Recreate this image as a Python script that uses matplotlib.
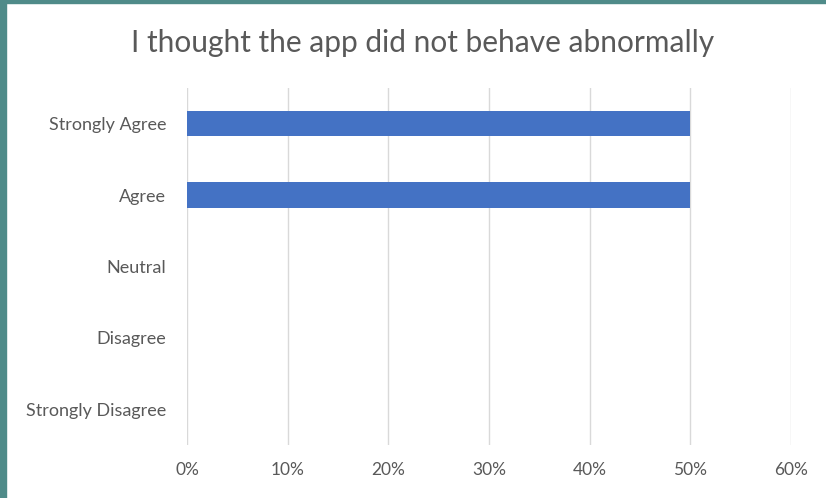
import matplotlib.pyplot as plt
from matplotlib.patches import Rectangle
from matplotlib.ticker import FuncFormatter

answers = ["Strongly Agree", "Agree", "Neutral", "Disagree", "Strongly Disagree"]
shares = [0.50, 0.50, 0.0, 0.0, 0.0]
x_ticks = [0.0, 0.1, 0.2, 0.3, 0.4, 0.5, 0.6]

plt.rcParams['font.family'] = ['Lato', 'DejaVu Sans']
text_col = "#595959"

fig = plt.figure(figsize=(8.26, 4.98), dpi=100)
ax = fig.add_axes([0.2264, 0.1064, 0.7312, 0.7169])

pos = list(range(len(answers)))
ax.barh(pos, shares, height=0.355, color="#4472C4", zorder=3)
ax.set_ylim(len(answers) - 0.5, -0.5)
ax.set_yticks(pos)
ax.set_yticklabels(answers)

ax.set_xlim(0, 0.6)
ax.set_xticks(x_ticks)
ax.xaxis.set_major_formatter(FuncFormatter(lambda v, _: f"{v*100:.0f}%"))
ax.grid(axis="x", color="#d9d9d9", linewidth=1, zorder=0)

for s in ax.spines.values():
    s.set_visible(False)
ax.tick_params(length=0, colors=text_col)
ax.tick_params(axis="x", pad=12, labelsize=12.5)
ax.tick_params(axis="y", pad=15, labelsize=13)

fig.text(0.511, 0.914, "I thought the app did not behave abnormally",
         ha="center", va="center", fontsize=21.5, color=text_col)

# teal frame along the left and top edges
W, H = 826, 498
fig.patches.append(Rectangle((0, 0), 6 / W, 1, transform=fig.transFigure,
                             color="#4f8b89", zorder=10))
fig.patches.append(Rectangle((0, 1 - 3 / H), 1, 3 / H, transform=fig.transFigure,
                             color="#4f8b89", zorder=10))

fig.savefig("out.png", dpi=100)
